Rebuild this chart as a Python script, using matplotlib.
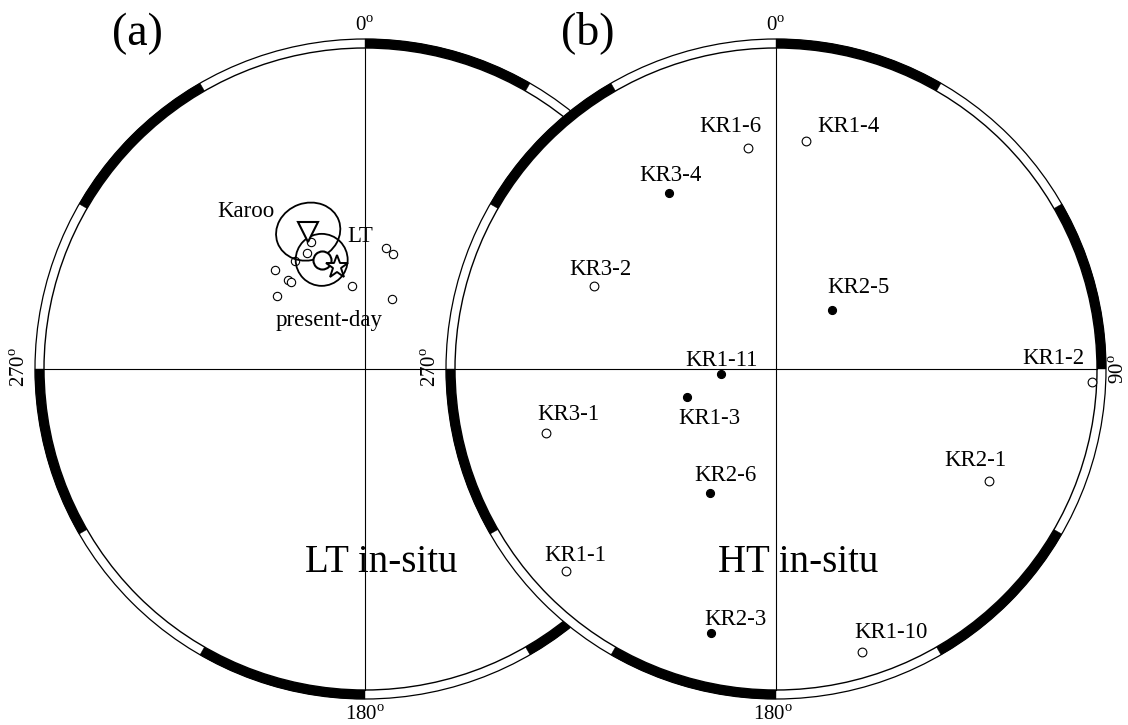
import matplotlib.pyplot as plt
from matplotlib.patches import Circle, Wedge, Ellipse

plt.rcParams['font.family'] = ['Liberation Serif', 'DejaVu Serif']
plt.rcParams['mathtext.fontset'] = 'custom'
plt.rcParams['mathtext.rm'] = 'Liberation Serif'

# net geometry (pixels, y up)
R = 321        # primitive radius
ring = 9       # width of the outer scale ring
centre_a = (365, 356)
centre_b = (776, 356)

# black parts of the scale ring, azimuth from north (deg)
black_arcs = [(0, 30), (60, 90), (120, 150), (180, 210), (240, 270), (300, 330)]

# (a) LT in-situ site means, projected coords (x east, y north, unit = primitive)
lt_x = [-0.169, -0.180, -0.218, -0.280, -0.239, -0.231, -0.273, -0.040, 0.064, 0.086, 0.085]
lt_y = [0.395, 0.362, 0.336, 0.308, 0.277, 0.272, 0.227, 0.259, 0.376, 0.357, 0.217]

karoo_mean = (-0.177, 0.428)
karoo_a95 = (0.203, 0.178, 20)   # width, height, tilt
lt_mean = (-0.135, 0.340)
lt_a95 = 0.081
present_day = (-0.086, 0.317)

# (b) HT in-situ site means
ht_names = ['KR1-6', 'KR1-4', 'KR3-4', 'KR3-2', 'KR2-5', 'KR1-11', 'KR1-2',
            'KR1-3', 'KR3-1', 'KR2-6', 'KR2-1', 'KR1-1', 'KR2-3', 'KR1-10']
ht_x = [-0.086, 0.0925, -0.332, -0.567, 0.1735, -0.171, 0.9835,
        -0.276, -0.7165, -0.2056, 0.6636, -0.655, -0.2034, 0.268]
ht_y = [0.689, 0.710, 0.547, 0.259, 0.184, -0.0156, -0.0396,
        -0.0863, -0.198, -0.387, -0.349, -0.628, -0.8215, -0.8816]
ht_lower = [False, False, True, False, True, True, False,
            True, False, True, False, False, True, False]

# label offsets in pixels (left edge, baseline)
ht_label_off = {'KR1-6': (-49, 16), 'KR1-4': (12, 9), 'KR3-4': (-30, 12), 'KR3-2': (-25, 11),
                'KR2-5': (-4, 17), 'KR1-11': (-36, 8), 'KR1-2': (-69, 18), 'KR1-3': (-9, -27),
                'KR3-1': (-9, 13), 'KR2-6': (-16, 12), 'KR2-1': (-45, 15), 'KR1-1': (-21, 10),
                'KR2-3': (-6, 8), 'KR1-10': (-8, 14)}

lab_fs = 16.5


def to_px(c, x, y):
    return c[0] + x * R, c[1] + y * R


def deg(s):
    return s + r'$^{\rm o}$'


def draw_net(ax, c, z):
    cx, cy = c
    ax.add_patch(Circle(c, R + ring, fc='white', ec='black', lw=0.9, zorder=z))
    for a0, a1 in black_arcs:
        ax.add_patch(Wedge(c, R + ring, 90 - a1, 90 - a0, width=ring,
                           fc='black', ec='black', lw=0.3, zorder=z))
    ax.add_patch(Circle(c, R, fc='white', ec='black', lw=1.0, zorder=z))
    ax.plot([cx, cx], [cy - R, cy + R], color='black', lw=0.8, zorder=z)
    ax.plot([cx - R, cx + R], [cy, cy], color='black', lw=0.8, zorder=z)


fig = plt.figure(figsize=(11.28, 7.25), dpi=100)
ax = fig.add_axes([0, 0, 1, 1])
ax.set_xlim(0, 1128)
ax.set_ylim(0, 725)
ax.axis('off')

# ---- (a)
draw_net(ax, centre_a, 1)
px, py = zip(*[to_px(centre_a, x, y) for x, y in zip(lt_x, lt_y)])
ax.plot(px, py, 'o', ms=6, mfc='white', mec='black', mew=0.8, ls='none', zorder=1)

kx, ky = to_px(centre_a, *karoo_mean)
ax.add_patch(Ellipse((kx, ky), karoo_a95[0] * R, karoo_a95[1] * R, angle=karoo_a95[2],
                     fc='none', ec='black', lw=1.3, zorder=1))
mx, my = to_px(centre_a, *lt_mean)
ax.add_patch(Circle((mx, my), lt_a95 * R, fc='none', ec='black', lw=1.3, zorder=1))
ax.plot(kx, ky, 'v', ms=14, mfc='white', mec='black', mew=1.5, zorder=1)
ax.plot(mx, my, 'o', ms=13, mfc='white', mec='black', mew=1.5, zorder=1)
sx, sy = to_px(centre_a, *present_day)
ax.plot(sx, sy, '*', ms=17, mfc='white', mec='black', mew=1.4, zorder=1)

ax.annotate('Karoo', (kx, ky), xytext=(-91, 15), textcoords='offset pixels',
            fontsize=lab_fs, ha='left', va='baseline', zorder=1)
ax.annotate('LT', (mx, my), xytext=(26, 18), textcoords='offset pixels',
            fontsize=lab_fs, ha='left', va='baseline', zorder=1)
ax.annotate('present-day', (sx, sy), xytext=(-62, -59), textcoords='offset pixels',
            fontsize=lab_fs, ha='left', va='baseline', zorder=1)

ca_x, ca_y = centre_a
ax.text(ca_x, ca_y + R + ring + 8, deg('0'), fontsize=15, ha='center', va='baseline', zorder=1)
ax.text(ca_x, 0, deg('180'), fontsize=15, ha='center', va='bottom', zorder=1)
ax.text(20, ca_y + 2, deg('270'), fontsize=15, rotation=90, ha='center', va='center', zorder=1)

# ---- (b), drawn on top of (a)
draw_net(ax, centre_b, 5)
for name, x, y, low in zip(ht_names, ht_x, ht_y, ht_lower):
    hx, hy = to_px(centre_b, x, y)
    if low:
        ax.plot(hx, hy, 'o', ms=5.8, mfc='black', mec='black', mew=0.8, zorder=5)
    else:
        ax.plot(hx, hy, 'o', ms=6.3, mfc='white', mec='black', mew=0.8, zorder=5)
    ax.annotate(name, (hx, hy), xytext=ht_label_off[name], textcoords='offset pixels',
                fontsize=lab_fs, ha='left', va='baseline', zorder=6)

cb_x, cb_y = centre_b
ax.text(cb_x, cb_y + R + ring + 8, deg('0'), fontsize=15, ha='center', va='baseline', zorder=6)
ax.text(cb_x - 3, 0, deg('180'), fontsize=15, ha='center', va='bottom', zorder=6)
ax.text(431, cb_y + 2, deg('270'), fontsize=15, rotation=90, ha='center', va='center', zorder=6)
ax.text(1124, cb_y, deg('90'), fontsize=15, rotation=90, rotation_mode='anchor',
        ha='center', va='baseline', zorder=6)

# panel titles
ax.text(137, 691, '(a)', fontsize=33, ha='center', va='center', zorder=10)
ax.text(588, 692, '(b)', fontsize=33, ha='center', va='center', zorder=10)
ax.text(305, 153, 'LT in-situ', fontsize=28, ha='left', va='baseline', zorder=10)
ax.text(718, 153, 'HT in-situ', fontsize=28, ha='left', va='baseline', zorder=10)

fig.savefig('out.png', dpi=100)
